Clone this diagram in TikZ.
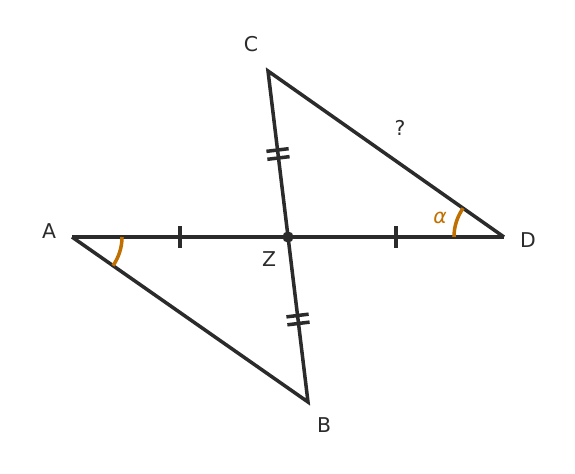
\documentclass[tikz,border=0pt]{standalone}
\usepackage{fontspec}
\setmainfont{DejaVu Sans}
\usetikzlibrary{calc,angles}
\definecolor{ink}{HTML}{2B2B2B}
\definecolor{anglecol}{HTML}{C07000}
\tikzset{
  side/.style={draw=ink, line width=2.5pt, line join=miter},
  tick/.style={draw=ink, line width=2.5pt},
  lbl/.style={text=ink, font=\fontsize{14.5}{16}\selectfont, inner sep=0pt},
  angmark/.style={draw=anglecol, line width=2.5pt, angle radius=1.25cm}
}
\begin{document}
\begin{tikzpicture}[x=0.025cm, y=-0.025cm]
\useasboundingbox (0,0) rectangle (575,474);

% Points
\coordinate (A) at (72,237);
\coordinate (B) at (308,402);
\coordinate (C) at (268,71);
\coordinate (D) at (504,237);
\coordinate (Z) at (288,237);

% Triangles
\draw[side] (A) -- (D);
\draw[side] (A) -- (B) -- (C) -- (D);

% Angles
\pic[angmark] {angle = B--A--Z};
\pic[angmark] {angle = C--D--Z};

% Equal segments, single ticks
\foreach \p/\q in {A/Z, Z/D} {
  \coordinate (m) at ($(\p)!0.5!(\q)$);
  \draw[tick] ($(m)!0.28cm!90:(\q)$) -- ($(m)!0.28cm!-90:(\q)$);
}

% Equal segments, double ticks
\foreach \p/\q in {C/Z, Z/B} {
  \coordinate (m) at ($(\p)!0.5!(\q)$);
  \foreach \s in {-0.1cm, 0.1cm} {
    \coordinate (t) at ($(m)!\s!(\q)$);
    \draw[tick] ($(t)!0.28cm!90:(\q)$) -- ($(t)!0.28cm!-90:(\q)$);
  }
}

% Midpoint
\fill[ink] (Z) circle (0.14cm);

% Labels
\node[lbl] (lA) at (49,231) {A};
\node[lbl] (lB) at (324,425) {B};
\node[lbl] (lC) at (251,44) {C};
\node[lbl] (lD) at (528,240) {D};
\node[lbl] (lZ) at (269,259) {Z};
\node[lbl] (lq) at (400,128) {?};
\node[lbl, text=anglecol] (lalpha) at (440,218) {\itshape α};
\end{tikzpicture}
\end{document}
